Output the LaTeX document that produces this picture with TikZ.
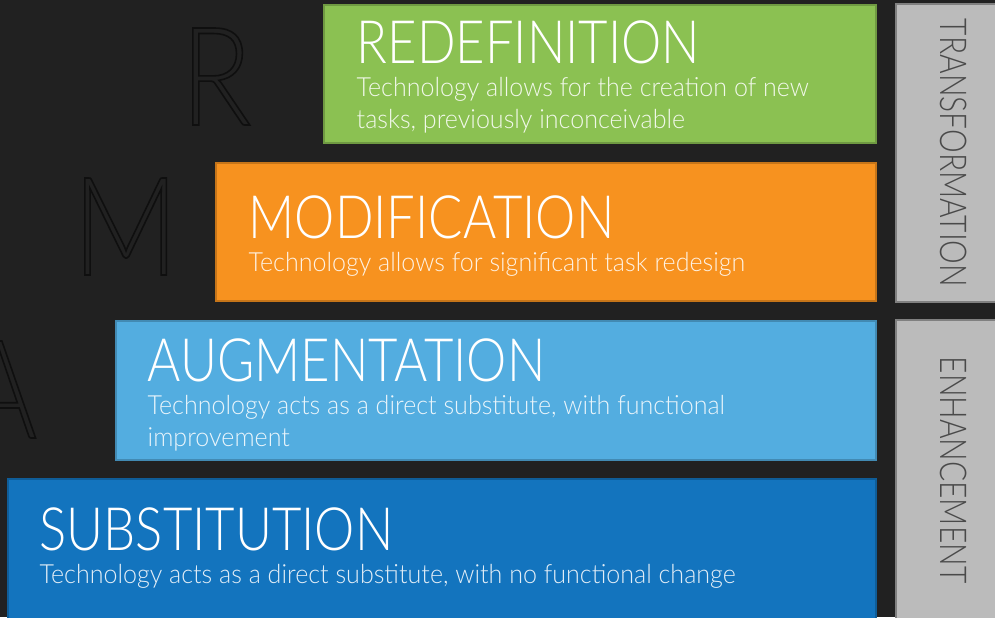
\documentclass[tikz,border=0pt]{standalone}
\usepackage{fontspec}
\setmainfont{Lato Light}
\newfontfamily\titlefont[FakeStretch=0.85]{Lato Light}
\newfontfamily\descfont[FakeStretch=0.95]{Lato Light}
\newfontfamily\sidefont[FakeStretch=0.81]{Lato Light}
\usetikzlibrary{positioning}
\definecolor{bgdark}{HTML}{212121}
\definecolor{ghostline}{HTML}{0F0F0F}
\definecolor{redefgreen}{HTML}{8BC152}
\definecolor{modorange}{HTML}{F7921F}
\definecolor{augblue}{HTML}{53ADE0}
\definecolor{subblue}{HTML}{1374BE}
\definecolor{sidegray}{HTML}{BBBBBB}
\definecolor{sidetext}{HTML}{4A4A4A}
\newcommand{\hollow}[1]{\special{pdf:code q 1 Tr 0.45 w 0.06 0.06 0.06 RG}#1\special{pdf:code Q}}

\begin{document}
\begin{tikzpicture}[x=0.01cm, y=-0.01cm,
  bar/.style={fill=#1, draw=#1!80!black, line width=0.4pt},
  title/.style={anchor=base west, inner sep=0pt, text=white, font=\titlefont\fontsize{17}{20}\selectfont},
  desc/.style={anchor=north west, inner sep=0pt, text=white!88!#1, align=left, font=\descfont\fontsize{7.5}{9.1}\selectfont},
  ghost/.style={anchor=base west, inner sep=0pt, text=ghostline, font=\titlefont\fontsize{39}{40}\selectfont},
  side/.style={rotate=-90, inner sep=0pt, text=sidetext, font=\sidefont\fontsize{10.5}{12}\selectfont}]
\fill [bgdark] (0,0) rectangle (995,617);
\useasboundingbox (0,0) rectangle (995,617);
% big letters in the background
\node [ghost] (ghostR) at (180,125) {\hollow{R}};
\node [ghost] (ghostM) at (72,275) {\hollow{M}};
\node [ghost] (ghostA) at (-40,438) {\hollow{A}};
% the four steps
\draw [bar=redefgreen] (324,5) rectangle (876,143);
\draw [bar=modorange] (216,163) rectangle (876,301);
\draw [bar=augblue] (116,321) rectangle (876,460);
\draw [bar=subblue] (8,479) rectangle (876,620);
\node [title] (redef) at (356,63) {REDEFINITION};
\node [desc=redefgreen] (redefdesc) at (356,77) {Technology allows for the creation of new\\tasks, previously inconceivable};
\node [title] (modif) at (248,238) {MODIFICATION};
\node [desc=modorange] (modifdesc) at (248,252) {Technology allows for significant task redesign};
\node [title] (augm) at (147,381) {AUGMENTATION};
\node [desc=augblue] (augmdesc) at (147,395) {Technology acts as a direct substitute, with functional\\improvement};
\node [title] (subst) at (39,550) {SUBSTITUTION};
\node [desc=subblue] (substdesc) at (39,564) {Technology acts as a direct substitute, with no functional change};
% side labels
\draw [fill=sidegray, draw=gray] (896,4) rectangle (999,302);
\draw [fill=sidegray, draw=gray] (896,320) rectangle (999,620);
\node [side] (transf) at (954,153) {TRANSFORMATION};
\node [side] (enhan) at (954,470) {ENHANCEMENT};
\end{tikzpicture}
\end{document}
